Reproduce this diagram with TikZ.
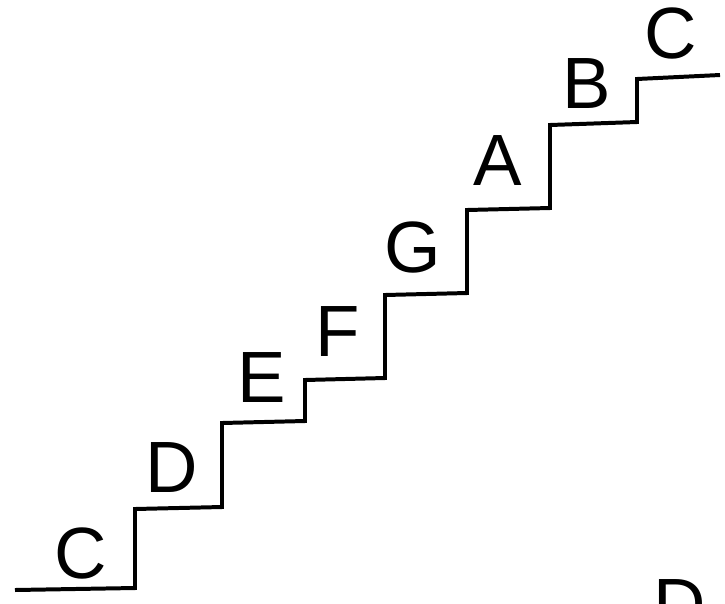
\documentclass[tikz,border=0pt]{standalone}
\usepackage{fontspec}
\setmainfont{Liberation Sans}
\begin{document}
\begin{tikzpicture}[x=0.03cm, y=-0.03cm,
    every node/.style={font=\fontsize{62}{62}\selectfont, inner sep=0pt, anchor=base}]
    \useasboundingbox (0,0) rectangle (725,603);

    % --- Treppe ---
    \draw[line width=3.4pt, line join=miter]
        (15,590) -- (135,588) -- (135,509) -- (222,507) -- (222,423)
        -- (305,421) -- (305,380) -- (385,378) -- (385,295)
        -- (467,293) -- (467,210) -- (550,208) -- (550,125)
        -- (637,122) -- (637,79) -- (720,75);

    % --- Tonnamen auf den Stufen ---
    \foreach \name/\txt/\x/\y in {cLow/C/81/578, dTon/D/172/492, eTon/E/262/402,
        fTon/F/338/356, gTon/G/413/272, aTon/A/498/185, hTon/B/587/108, cHigh/C/671/58} {
        \node (\name) at (\x,\y) {\txt};
    }

    % --- abgeschnittener Rest unten rechts ---
    \begin{scope}
        \clip (0,0) rectangle (725,603);
        \node (rest) at (680,629) {D};
    \end{scope}
\end{tikzpicture}
\end{document}
